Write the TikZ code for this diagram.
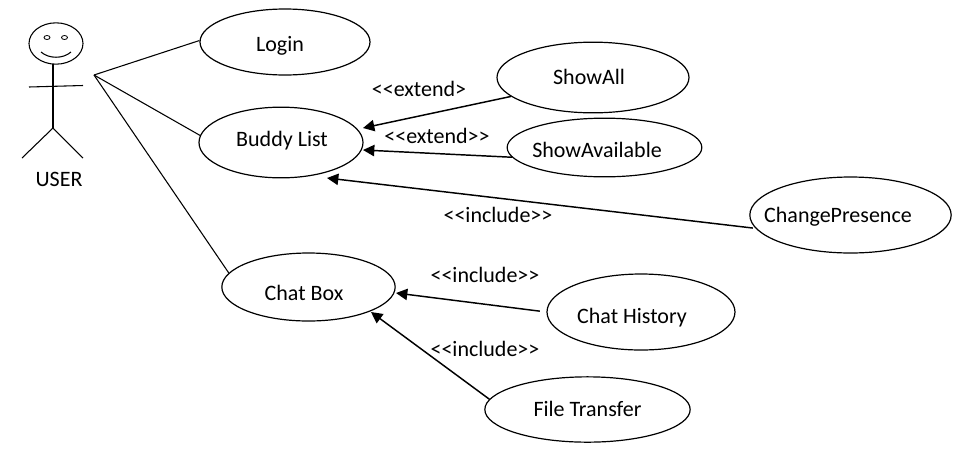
\documentclass[tikz,border=0pt]{standalone}
\usepackage{fontspec}
\setmainfont{Carlito}
\usetikzlibrary{shapes.geometric,arrows.meta}
\newcommand{\ctext}[3]{\raisebox{#2}[0pt][0pt]{\makebox[0pt]{\kern#1\kern#1 #3}}}
\newcommand{\dbll}{{<}\kern0pt{<}}
\newcommand{\dblr}{{>}\kern0pt{>}}
\tikzset{
 uc/.style={draw=black,ellipse,line width=0.9pt,inner sep=0pt,font=\fontsize{16.5}{20}\selectfont},
 lbl/.style={inner sep=0pt,font=\fontsize{16.5}{20}\selectfont},
 ln/.style={draw=black,line width=0.8pt},
 arr/.style={draw=black,line width=1.1pt,-{Triangle[length=8.5pt,width=8.5pt]}}
}
\begin{document}
\begin{tikzpicture}[x=0.75pt,y=-0.75pt]
\useasboundingbox (0,0) rectangle (960,465);
\node[uc,minimum width=127.5pt,minimum height=49.5pt] (login) at (285,42) {\ctext{-3.75pt}{-7pt}{Login}};
\node[uc,minimum width=123pt,minimum height=53pt] (buddy) at (281,142.5) {\ctext{0.75pt}{-2.9pt}{Buddy List}};
\node[uc,minimum width=144pt,minimum height=53pt] (showall) at (593,77.5) {\ctext{-3pt}{-5.1pt}{ShowAll}};
\node[uc,minimum width=146pt,minimum height=44pt] (avail) at (604.5,147.5) {\ctext{-5.6pt}{-7.4pt}{ShowAvailable}};
\node[uc,minimum width=151pt,minimum height=57pt] (presence) at (850.5,215) {\ctext{-9.4pt}{-5.5pt}{ChangePresence}};
\node[uc,minimum width=130pt,minimum height=51pt] (chat) at (308.5,287) {\ctext{-3.4pt}{-10pt}{Chat Box}};
\node[uc,minimum width=141pt,minimum height=57pt] (hist) at (641,312) {\ctext{-6.75pt}{-8.5pt}{Chat History}};
\node[uc,minimum width=154pt,minimum height=49pt] (file) at (587.5,409.5) {\ctext{0pt}{-5.5pt}{File Transfer}};
\node[lbl] (user) at (59,179) {USER};
\coordinate (hand) at (94,75);
\coordinate (hip) at (53,128);
\coordinate (al) at (29,87);
\coordinate (ar) at (83,85.5);
\coordinate (ll) at (22,158);
\coordinate (lr) at (83,158);
% actor
\node[draw=black,ellipse,line width=0.8pt,minimum width=40.5pt,minimum height=31pt,inner sep=0pt] (head) at (56,43.5) {};
\draw[ln] (53,64) -- (hip);
\draw[ln] (al) -- (ar);
\draw[ln] (hip) -- (ll);
\draw[ln] (hip) -- (lr);
\draw[line width=0.6pt] (47,37.5) ellipse (3 and 2);
\draw[line width=0.6pt] (64.5,37.5) ellipse (3 and 2);
\draw[line width=0.8pt] (41,52) .. controls (49,59) and (63,59) .. (71,52);
% connectors
\draw[ln] (hand) -- (login.179);
\draw[ln] (hand) -- (buddy.175);
\draw[ln] (hand) -- (chat.170);
\coordinate (t1) at (363,128);
\coordinate (t2) at (363,150);
\coordinate (t3) at (327,178);
\coordinate (t4) at (396,293);
\coordinate (t5) at (371,312);
\draw[arr] (showall.193) -- (t1);
\draw[arr] (avail.186) -- (t2);
\draw[arr,shorten <=2pt] (presence.188.5) -- (t3);
\draw[arr,shorten <=5pt] (hist.180) -- (t4);
\draw[arr] (file.174) -- (t5);
\node[lbl] (l1) at (419,89) {\dbll extend>};
\node[lbl] (l2) at (437,136) {\dbll extend\dblr};
\node[lbl] (l3) at (498,215) {\dbll include\dblr};
\node[lbl] (l4) at (485,275) {\dbll include\dblr};
\node[lbl] (l5) at (485,349) {\dbll include\dblr};
\end{tikzpicture}
\end{document}
